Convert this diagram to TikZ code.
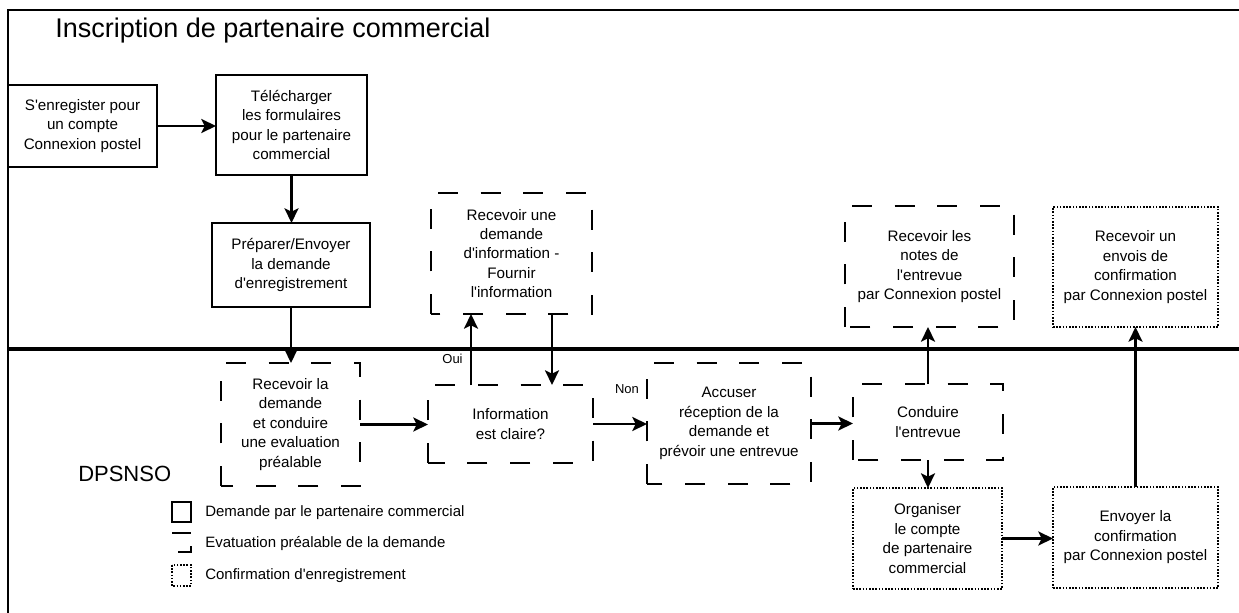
\documentclass[tikz,border=0pt]{standalone}
\usepackage{fontspec}
\setmainfont{Liberation Sans}
\usetikzlibrary{arrows.meta}
\newcommand{\myq}{\textquotesingle}
\begin{document}
\begin{tikzpicture}[x=0.75pt,y=-0.75pt,
  bx/.style 2 args={minimum width=#1*0.75pt, minimum height=#2*0.75pt},
  boxbase/.style={outer sep=0pt, inner sep=0pt, align=center,
    font=\fontsize{11.4}{14.6}\selectfont},
  sbox/.style={boxbase, draw, line width=1.7pt},
  dbox/.style={boxbase},
  obox/.style={boxbase, draw, line width=1.6pt, dash pattern=on 1.2pt off 1.2pt},
  dline/.style={line width=1.9pt, dash pattern=on 15pt off 17pt},
  arr/.style={line width=1.6pt, -{Stealth[length=11pt,width=10.5pt,inset=2.5pt]}},
  lbl/.style={font=\fontsize{9.75}{11}\selectfont, inner sep=0pt},
  legtxt/.style={font=\fontsize{11.25}{13}\selectfont, inner sep=0pt, anchor=mid west}]
\useasboundingbox (0,0) rectangle (1239,613);
\fill[white] (0,0) rectangle (1239,613);
% frame and divider
\draw[line width=2pt] (1239,10) -- (8,10) -- (8,613);
\draw[line width=2.3pt] (8,349) -- (1239,349);
% titles
\node[anchor=base west, inner sep=0pt, font=\fontsize{20.25}{24}\selectfont] (title) at (55,38) {Inscription de partenaire commercial};
\node[anchor=base west, inner sep=0pt, font=\fontsize{16.5}{20}\selectfont] (dps) at (78,481) {DPSNSO};
% boxes
\node[sbox, bx={149}{82}] (b1) at (82.5,126) {S\myq enregister pour\\un compte\\Connexion postel};
\node[sbox, bx={151}{100}] (b2) at (291.5,125) {Télécharger\\les formulaires\\pour le partenaire\\commercial};
\node[sbox, bx={158}{84}] (b3) at (291,265) {Préparer/Envoyer\\la demande\\d\myq enregistrement};
\node[dbox, bx={161}{121}] (b4) at (511.5,253.5) {Recevoir une\\demande\\d\myq information -\\Fournir\\l\myq information};
\node[dbox, bx={139}{123}] (b5) at (290.5,424.5) {Recevoir la\\demande\\et conduire\\une evaluation\\préalable};
\node[dbox, bx={165}{78}] (b6) at (510.5,424) {Information\\est claire?};
\node[dbox, bx={164}{121}] (b7) at (729,423.5) {Accuser\\réception de la\\demande et\\prévoir une entrevue};
\node[dbox, bx={150}{76}] (b8) at (928,422) {Conduire\\l\myq entrevue};
\node[obox, bx={149}{101}] (b9) at (927.5,538.5) {Organiser\\le compte\\de partenaire\\commercial};
\node[obox, bx={165}{101}] (b10) at (1135.5,537.5) {Envoyer la\\confirmation\\par Connexion postel};
\node[dbox, bx={169}{121}] (b11) at (929.5,266.5) {Recevoir les\\notes de\\l\myq entrevue\\par Connexion postel};
\node[obox, bx={165}{120}] (b12) at (1135.5,267) {Recevoir un\\envois de\\confirmation\\par Connexion postel};
% dashed outlines
\foreach \n in {b4,b5,b6,b7,b8,b11}
  \draw[dline] (\n.south west) -- (\n.north west) -- (\n.north east) -- (\n.south east) -- cycle;
% labels
\node[lbl] (oui) at (452.5,359) {Oui};
\node[lbl] (non) at (627,389) {Non};
% connectors
\coordinate (xo) at (471,0);
\coordinate (xd) at (552,0);
\draw[arr] (b1.east) -- (b2.west |- b1.east);
\draw[arr] (b2.south) -- (b3.north -| b2.south);
\draw[arr] (b3.south) -- (b5.north -| b3.south);
\draw[arr] (b5.east) -- (b6.west |- b5.east);
\draw[arr] (b6.north -| xo) -- (b4.south -| xo);
\draw[arr] (b4.south -| xd) -- (b6.north -| xd);
\draw[arr] (b6.east) -- (b7.west |- b6.east);
\draw[arr] (b7.east) -- (b8.west |- b7.east);
\draw[arr] (b8.north) -- (b11.south -| b8.north);
\draw[arr] (b8.south) -- (b9.north -| b8.south);
\draw[arr] (b9.east) -- (b10.west |- b9.east);
\draw[arr] (b10.north) -- (b12.south -| b10.north);
% legend
\draw[line width=1.6pt] (172,502) rectangle (191,522);
\node[legtxt] (l1) at (205,513) {Demande par le partenaire commercial};
\draw[line width=1.6pt] (172,533) -- (191,533);
\draw[line width=1.6pt] (178,552) -- (191,552) -- (191,546);
\node[legtxt] (l2) at (205,544) {Evatuation préalable de la demande};
\draw[line width=1.6pt, dash pattern=on 1.2pt off 1.2pt] (172,565) rectangle (191,586);
\node[legtxt] (l3) at (205,576) {Confirmation d\myq enregistrement};
\end{tikzpicture}
\end{document}
